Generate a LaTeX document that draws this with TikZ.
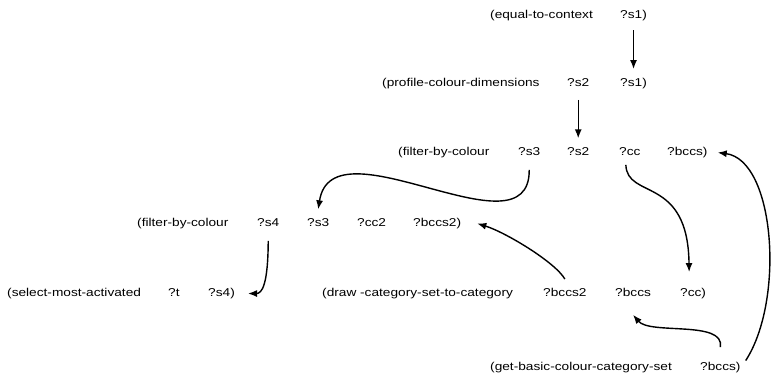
\documentclass[tikz,border=0pt]{standalone}
\usepackage{fontspec}
\setmainfont{Liberation Sans}[FakeStretch=1.2]
\usetikzlibrary{arrows.meta}

\begin{document}
\begin{tikzpicture}[x=1pt,y=-1pt,
tok/.style={inner xsep=0pt,inner ysep=9pt,anchor=base west,
 font=\fontsize{11.4pt}{13pt}\selectfont},
link/.style={-{Latex[length=9pt,width=7pt]},line width=1.4pt}]
 \useasboundingbox (0,0) rectangle (773,373);

 \path node[tok] (ctx) at (490,18.5) {(equal-to-context}
 node[tok] (ctxS1) at (620,18.5) {?s1)};
 \path node[tok] (prof) at (382,86.5) {(profile-colour-dimensions}
 node[tok] (profS2) at (567,86.5) {?s2}
 node[tok] (profS1) at (620,86.5) {?s1)};
 \path node[tok] (filtA) at (398,155.5) {(filter-by-colour}
 node[tok] (filtAs3) at (518,155.5) {?s3}
 node[tok] (filtAs2) at (567,155.5) {?s2}
 node[tok] (filtAcc) at (619,155.5) {?cc}
 node[tok] (filtAbccs) at (667,155.5) {?bccs)};
 \path node[tok] (filtB) at (137,226.5) {(filter-by-colour}
 node[tok] (filtBs4) at (257,226.5) {?s4}
 node[tok] (filtBs3) at (307,226.5) {?s3}
 node[tok] (filtBcc2) at (357,226.5) {?cc2}
 node[tok] (filtBbccs2) at (413,226.5) {?bccs2)};
 \path node[tok] (sel) at (7,296.5) {(select-most-activated}
 node[tok] (selT) at (168,296.5) {?t}
 node[tok] (selS4) at (208,296.5) {?s4)};
 \path node[tok] (draw) at (322,296.5) {(draw -category-set-to-category}
 node[tok] (drawB2) at (543,296.5) {?bccs2}
 node[tok] (drawB) at (615,296.5) {?bccs}
 node[tok] (drawCC) at (680,296.5) {?cc)};
 \path node[tok] (get) at (490,370.5) {(get-basic-colour-category-set}
 node[tok] (getB) at (700,370.5) {?bccs)};

 \draw[link] (ctxS1.south) -- (profS1.north);
 \draw[link] ([yshift=-4pt]profS2.south) -- (filtAs2.north);
 \draw[link] ([yshift=-5pt]filtAs3.south) .. controls (530,260) and (332,118) .. (filtBs3.north);
 \draw[link] ([yshift=-5pt]filtBs4.south) .. controls (268,285) and (262,293.5) .. ([xshift=13pt]selS4.east);
 \draw[link] (drawB2.north) .. controls (555,262) and (505,232) .. ([xshift=16pt]filtBbccs2.east);
 \draw[link] ([xshift=-4pt]filtAcc.south) .. controls (627,200) and (688,175) .. ([xshift=-4pt,yshift=7pt]drawCC.north);
 \draw[link] ([yshift=6pt]getB.north) .. controls (725,320) and (650,335) .. ([yshift=-9pt]drawB.south);
 \draw[link] ([xshift=5pt,yshift=7pt]getB.east) .. controls (785,300) and (775,160) .. ([xshift=10pt]filtAbccs.east);
\end{tikzpicture}
\end{document}
